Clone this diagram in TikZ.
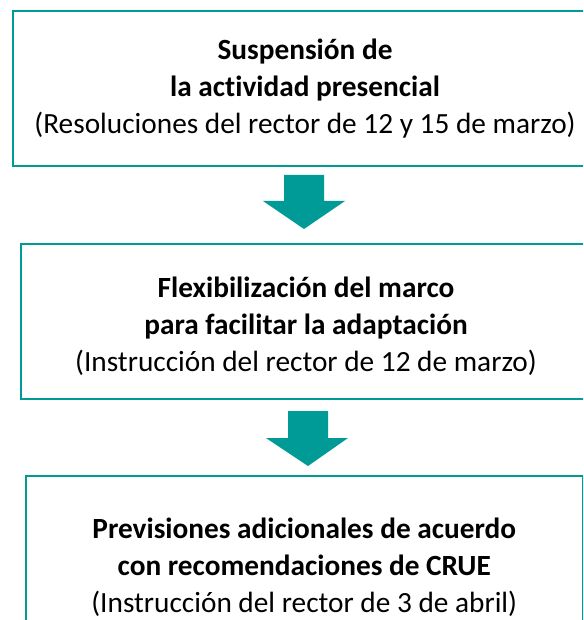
\documentclass[tikz,border=0pt]{standalone}
\usepackage{fontspec}
\setmainfont{Carlito}[Ligatures=NoCommon]
\usetikzlibrary{calc}
\definecolor{tealc}{RGB}{0,155,150}
\tikzset{
  box/.style={draw=tealc, line width=2pt, fill=white, inner sep=0pt,
    anchor=north west},
  boxtext/.style={inner sep=0pt, align=center,
    font=\fontsize{29.3}{37}\selectfont},
  blockarrow/.style={fill=tealc, draw=none}
}
\begin{document}
\begin{tikzpicture}[x=1pt,y=-1pt]
\useasboundingbox (0,0) rectangle (583,620);
\clip (0,0) rectangle (583,620);
\node[box, minimum width=585pt, minimum height=155pt] (b1) at (11.5,10) {};
\node[boxtext] (t1) at ($(b1.center)+(0,0.5)$)
  {\textbf{Suspensión de}\\ \textbf{la actividad presencial}\\ (Resoluciones del rector de 12 y 15 de marzo)};
\node[box, minimum width=571pt, minimum height=155pt] (b2) at (19.5,243) {};
\node[boxtext] (t2) at ($(b2.center)+(0,5)$)
  {\textbf{Flexibilización del marco}\\ \textbf{para facilitar la adaptación}\\ (Instrucción del rector de 12 de marzo)};
\node[box, minimum width=556.5pt, minimum height=182pt] (b3) at (25,475) {};
\node[boxtext] (t3) at ($(b3.center)+(0,0)$)
  {\textbf{Previsiones adicionales de acuerdo}\\ \textbf{con recomendaciones de CRUE}\\ (Instrucción del rector de 3 de abril)};
\fill[blockarrow] ($(b1.south)+(-21,8)$) -- ($(b1.south)+(19,8)$) -- ($(b1.south)+(19,34)$)
  -- ($(b1.south)+(40,34)$) -- ($(b1.south |- b2.north)+(-1,-14)$)
  -- ($(b1.south)+(-42,34)$) -- ($(b1.south)+(-21,34)$) -- cycle;
\fill[blockarrow] ($(b2.south)+(-18,11)$) -- ($(b2.south)+(22,11)$) -- ($(b2.south)+(22,38)$)
  -- ($(b2.south)+(42,38)$) -- ($(b2.south |- b3.north)+(2,-9)$)
  -- ($(b2.south)+(-40,38)$) -- ($(b2.south)+(-18,38)$) -- cycle;
\end{tikzpicture}
\end{document}
